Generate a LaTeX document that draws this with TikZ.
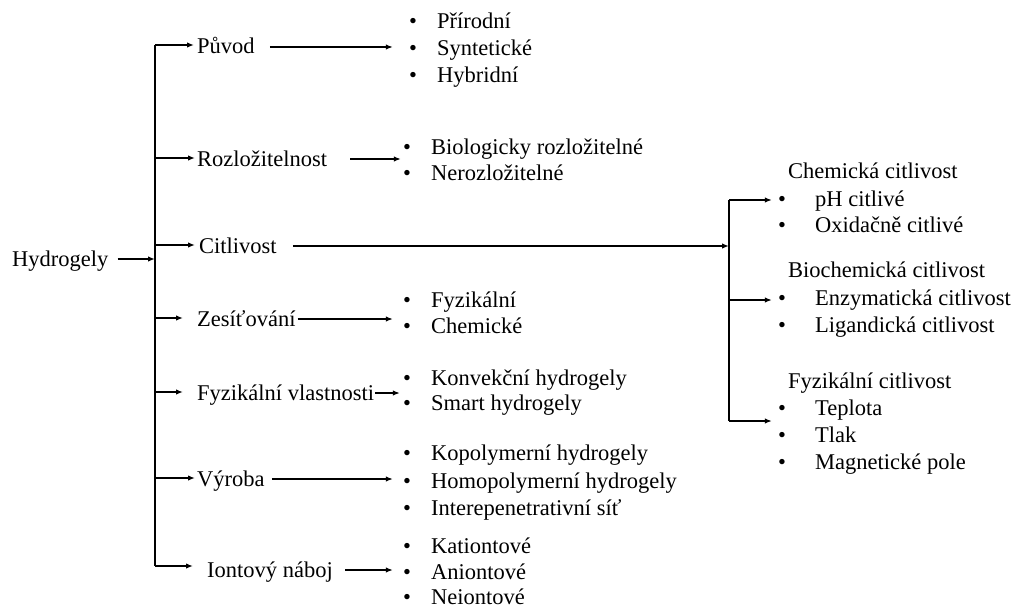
\documentclass[tikz,border=0pt]{standalone}
\usepackage{fontspec}
\setmainfont{Liberation Serif}
\usetikzlibrary{arrows.meta}
\newcommand\litem[5]{% name, bullet x, text x, y, text
  \node[bul] (#1-b) at (#2,#4) {•};
  \node[txt] (#1) at (#3,#4) {#5};}
\begin{document}
\begin{tikzpicture}[x=1pt,y=-1pt,
  txt/.style={anchor=west,inner sep=0pt,text height=17pt,text depth=3pt,font=\fontsize{22.5}{27}\selectfont},
  bul/.style={anchor=center,inner sep=0pt,text height=17pt,text depth=3pt,font=\fontsize{22.5}{27}\selectfont},
  arr/.style={line width=1.5pt,-{Latex[length=7pt,width=5.5pt]}},
  ln/.style={line width=1.7pt}]
\useasboundingbox (0,0) rectangle (1014,607);

% root and branch labels
\node[txt] (hyd) at (12,259) {Hydrogely};
\node[txt] (puv) at (197,47) {Původ};
\node[txt] (roz) at (197,159) {Rozložitelnost};
\node[txt] (cit) at (199,246) {Citlivost};
\node[txt] (zes) at (197,319) {Zesíťování};
\node[txt] (fyz) at (197,393) {Fyzikální vlastnosti};
\node[txt] (vyr) at (197,479) {Výroba};
\node[txt] (ion) at (207,570) {Iontový náboj};

% trunk coordinates
\coordinate (b1) at (155,45);
\coordinate (b2) at (155,158);
\coordinate (b3) at (155,245);
\coordinate (b4) at (155,318);
\coordinate (b5) at (155,392);
\coordinate (b6) at (155,478);
\coordinate (b7) at (155,566);
\coordinate (bh) at (155,259);

% lists
\litem{s1}{413}{437}{22}{Přírodní}
\litem{s2}{413}{437}{49}{Syntetické}
\litem{s3}{413}{437}{76}{Hybridní}
\litem{r1}{407}{431}{147}{Biologicky rozložitelné}
\litem{r2}{407}{431}{173}{Nerozložitelné}
\litem{z1}{407}{431}{300}{Fyzikální}
\litem{z2}{407}{431}{326}{Chemické}
\litem{f1}{407}{431}{378}{Konvekční hydrogely}
\litem{f2}{407}{431}{403}{Smart hydrogely}
\litem{v1}{407}{431}{453}{Kopolymerní hydrogely}
\litem{v2}{407}{431}{481}{Homopolymerní hydrogely}
\litem{v3}{407}{431}{508}{Interepenetrativní síť}
\litem{i1}{407}{431}{546}{Kationtové}
\litem{i2}{407}{431}{572}{Aniontové}
\litem{i3}{407}{431}{597}{Neiontové}

% right side
\node[txt] (chh) at (788,171) {Chemická citlivost};
\litem{c1}{782}{815}{199}{pH citlivé}
\litem{c2}{782}{815}{225}{Oxidačně citlivé}
\node[txt] (bih) at (788,270) {Biochemická citlivost};
\litem{e1}{782}{815}{298}{Enzymatická citlivost}
\litem{e2}{782}{815}{325}{Ligandická citlivost}
\node[txt] (fch) at (788,381) {Fyzikální citlivost};
\litem{p1}{782}{815}{408}{Teplota}
\litem{p2}{782}{815}{435}{Tlak}
\litem{p3}{782}{815}{462}{Magnetické pole}

\coordinate (rv1) at (729,200);
\coordinate (rvm) at (729,246);
\coordinate (rv2) at (729,300);
\coordinate (rv3) at (729,421);

% connectors
\draw[ln] (b1) -- (b7);
\draw[arr] ([xshift=9pt]hyd.east) -- (hyd.east -| bh);
\draw[arr,shorten >=3pt] (b1) -- (b1 -| puv.west);
\draw[arr,shorten >=2pt] (b2) -- (b2 -| roz.west);
\draw[arr,shorten >=4pt] (b3) -- (b3 -| cit.west);
\draw[arr,shorten >=14pt] (b4) -- (b4 -| zes.west);
\draw[arr,shorten >=14pt] (b5) -- (b5 -| fyz.west);
\draw[arr,shorten >=2pt] (b6) -- (b6 -| vyr.west);
\draw[arr,shorten >=14pt] (b7) -- (b7 -| ion.west);

\draw[arr,shorten >=16pt] ([xshift=15pt]puv.east) -- (puv.east -| s2-b.west);
\draw[arr,shorten >=2pt] ([xshift=23pt]roz.east) -- (roz.east -| r1-b.west);
\draw[arr] ([xshift=16pt]cit.east) -- (rvm);
\draw[arr,shorten >=10pt] ([xshift=2pt]zes.east) -- (zes.east -| z1-b.west);
\draw[arr,shorten >=3pt] ([xshift=1pt]fyz.east) -- (fyz.east -| f1-b.west);
\draw[arr,shorten >=10pt] ([xshift=7pt]vyr.east) -- (vyr.east -| v2-b.west);
\draw[arr,shorten >=10pt] ([xshift=12pt]ion.east) -- (ion.east -| i2-b.west);

\draw[ln] (rv1) -- (rv3);
\draw[arr,shorten >=6pt] (rv1) -- (rv1 -| c1-b.west);
\draw[arr,shorten >=6pt] (rv2) -- (rv2 -| e1-b.west);
\draw[arr,shorten >=6pt] (rv3) -- (rv3 -| p1-b.west);
\end{tikzpicture}
\end{document}
